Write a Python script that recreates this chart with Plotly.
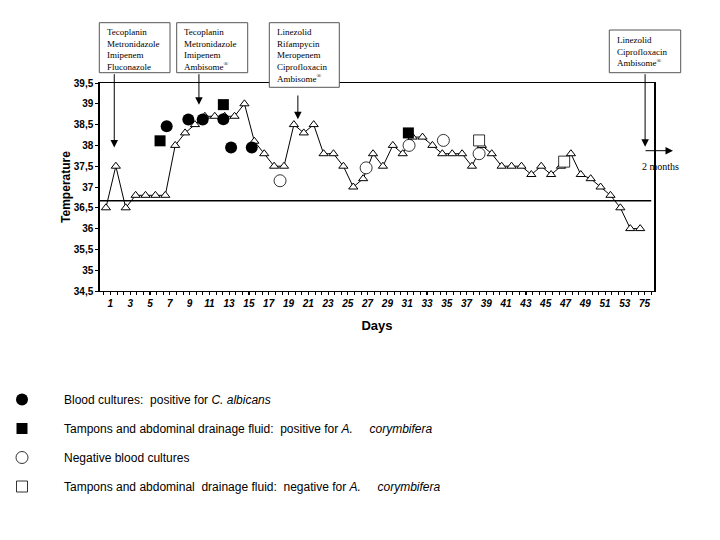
import numpy as np
import plotly.graph_objects as go

# ---------------- data ----------------
days = list(range(1, 55)) + [75]
temperature = [36.5, 37.5, 36.5, 36.8, 36.8, 36.8, 36.8, 38.0, 38.3, 38.5,
               38.7, 38.7, 38.7, 38.7, 39.0, 38.1, 37.8, 37.5, 37.5, 38.5,
               38.3, 38.5, 37.8, 37.8, 37.5, 37.0, 37.2, 37.8, 37.5, 38.0,
               37.8, 38.2, 38.2, 38.0, 37.8, 37.8, 37.8, 37.5, 38.0, 37.8,
               37.5, 37.5, 37.5, 37.3, 37.5, 37.3, 37.5, 37.8, 37.3, 37.2,
               37.0, 36.8, 36.5, 36.0, 36.0]
tick_days = days[::2]

# culture results (position along the day axis, temperature level)
blood_pos_x = [6.14, 8.33, 9.78, 11.87, 12.65, 14.74]
blood_pos_y = [38.46, 38.62, 38.62, 38.63, 37.95, 37.95]
tampon_pos_x = [5.47, 11.87, 30.57]
tampon_pos_y = [38.11, 38.98, 38.30]
blood_neg_x = [17.6, 26.3, 30.64, 34.11, 37.72]
blood_neg_y = [37.15, 37.46, 38.00, 38.12, 37.80]
tampon_neg_x = [37.72, 46.32]
tampon_neg_y = [38.12, 37.61]

normal_temp = 36.67

# therapy boxes
therapies = [
    ["Tecoplanin", "Metronidazole", "Imipenem", "Fluconazole"],
    ["Tecoplanin", "Metronidazole", "Imipenem", "Ambisome<sup>®</sup>"],
    ["Linezolid", "Rifampycin", "Meropenem", "Ciprofloxacin", "Ambisome<sup>®</sup>"],
    ["Linezolid", "Ciprofloxacin", "Ambisome<sup>®</sup>"],
]
therapy_start_x = [0.84, 9.4, 19.4, 54.5]
therapy_start_y = [37.95, 38.98, 38.63, 37.97]

# ---------------- layout helpers ----------------
W, H = 720, 540
OFF = 8                      # page body margin of the html page
SL, ST, SR, SB = 100, 83, 654, 291   # plot area in screen pixels
PW, PH = SR - SL, SB - ST
ML, MT = SL - OFF, ST - OFF
MR, MB = W - PW - ML, H - PH - MT


def px(x):
    return (x - SL) / PW


def py(y):
    return (SB - y) / PH


SANS = "Liberation Sans, Arial, sans-serif"
SERIF = "Liberation Serif, Times New Roman, serif"

fig = go.Figure()

fig.add_trace(go.Scatter(
    x=list(range(len(days))), y=temperature, mode="lines+markers",
    line=dict(color="black", width=1),
    marker=dict(symbol="triangle-up", size=8, color="white",
                line=dict(color="black", width=1)),
    showlegend=False, hoverinfo="y"))

nb = "\u00a0"
fig.add_trace(go.Scatter(
    x=blood_pos_x, y=blood_pos_y, mode="markers", legendgroup="a",
    name="Blood cultures:" + nb * 2 + "positive for <i>C. albicans</i>",
    marker=dict(symbol="circle", size=12, color="black")))
fig.add_trace(go.Scatter(
    x=tampon_pos_x, y=tampon_pos_y, mode="markers", legendgroup="b",
    name="Tampons and abdominal drainage fluid:" + nb * 2 + "positive for <i>A." + nb * 5 + "corymbifera</i>",
    marker=dict(symbol="square", size=11, color="black")))
fig.add_trace(go.Scatter(
    x=blood_neg_x, y=blood_neg_y, mode="markers", legendgroup="c",
    name="Negative blood cultures",
    marker=dict(symbol="circle", size=12, color="white",
                line=dict(color="black", width=0.8))))
fig.add_trace(go.Scatter(
    x=tampon_neg_x, y=tampon_neg_y, mode="markers", legendgroup="d",
    name="Tampons and abdominal" + nb * 2 + "drainage fluid:" + nb * 2 + "negative for <i>A." + nb * 5 + "corymbifera</i>",
    marker=dict(symbol="square", size=11, color="white",
                line=dict(color="black", width=0.8))))

shapes = [dict(type="line", xref="paper", yref="y", x0=0, x1=0.995,
               y0=normal_temp, y1=normal_temp, line=dict(color="black", width=1.6))]

annotations = []
# boxes (screen-pixel rectangles)
boxes = [(99.3, 22.7, 170.0, 72.7), (176.7, 22.7, 247.7, 72.7),
         (269.3, 22.7, 339.3, 87.3), (609.3, 30.0, 680.7, 72.7)]
tails = [72.7, 72.7, 94.0, 72.7]
for (x0, y0, x1, y1), lines in zip(boxes, therapies):
    shapes.append(dict(type="rect", xref="paper", yref="paper", layer="above",
                       x0=px(x0), x1=px(x1), y0=py(y0), y1=py(y1),
                       fillcolor="white", line=dict(color="#555555", width=1)))
    annotations.append(dict(xref="paper", yref="paper", x=px(x0 + 5.5), y=py(y0 + 2.5),
                            xanchor="left", yanchor="top", align="left", showarrow=False,
                            text="<br>".join(lines),
                            font=dict(family=SERIF, size=9, color="black")))

# arrows to therapy start
for i, (ax_, ay_) in enumerate(zip(therapy_start_x, therapy_start_y)):
    head_px = ST + (39.5 - ay_) / 5.0 * PH
    annotations.append(dict(xref="x", yref="y", x=ax_, y=ay_, text="",
                            showarrow=True, axref="pixel", ayref="pixel",
                            ax=0, ay=-(head_px - tails[i]), arrowhead=2,
                            arrowsize=1.5, arrowwidth=1, arrowcolor="black", standoff=0))
# "2 months" arrow
annotations.append(dict(xref="paper", yref="paper", x=px(673), y=py(150.7), text="",
                        showarrow=True, axref="pixel", ayref="pixel", ax=-29, ay=0,
                        arrowhead=2, arrowsize=1.5, arrowwidth=1, arrowcolor="black",
                        standoff=0))
annotations.append(dict(xref="paper", yref="paper", x=px(660), y=py(166), text="2 months",
                        xanchor="center", yanchor="middle",
                        showarrow=False, font=dict(family=SERIF, size=10, color="black")))

tick_pos = [i + 0.45 for i in range(0, len(days), 2)]

fig.update_layout(
    width=W, height=H, margin=dict(l=ML, r=MR, t=MT, b=MB, autoexpand=False),
    paper_bgcolor="white", plot_bgcolor="white",
    separators=", ",
    shapes=shapes, annotations=annotations,
    xaxis=dict(range=[-0.6, 55.4], showgrid=False, zeroline=False,
               showline=True, linecolor="black", linewidth=1, mirror=True,
               tickmode="array", tickvals=tick_pos, ticktext=[str(d) for d in tick_days],
               ticks="outside", ticklen=3, tickcolor="black",
               minor=dict(tickmode="array",
                          tickvals=list(np.arange(-0.2, 55.4, 2 / 3)),
                          ticks="outside", ticklen=3, tickcolor="black"),
               tickfont=dict(family=SANS, size=10, color="black", weight="bold", style="italic"),
               title=dict(text="Days", font=dict(family=SANS, size=13, color="black", weight="bold"),
                          standoff=12)),
    yaxis=dict(range=[34.5, 39.5], dtick=0.5, showgrid=False, zeroline=False,
               showline=True, linecolor="black", linewidth=1.5, mirror=True,
               ticks="outside", ticklen=3, tickcolor="black",
               tickfont=dict(family=SANS, size=10, color="black", weight="bold"),
               title=dict(text="Temperature", font=dict(family=SANS, size=12, color="black", weight="bold"),
                          standoff=1)),
    legend=dict(x=px(-20), y=py(385), xanchor="left", yanchor="top",
                traceorder="grouped", tracegroupgap=10, itemwidth=74,
                font=dict(family=SANS, size=12, color="black"),
                bgcolor="rgba(0,0,0,0)"),
)

fig.write_html("out.html")
